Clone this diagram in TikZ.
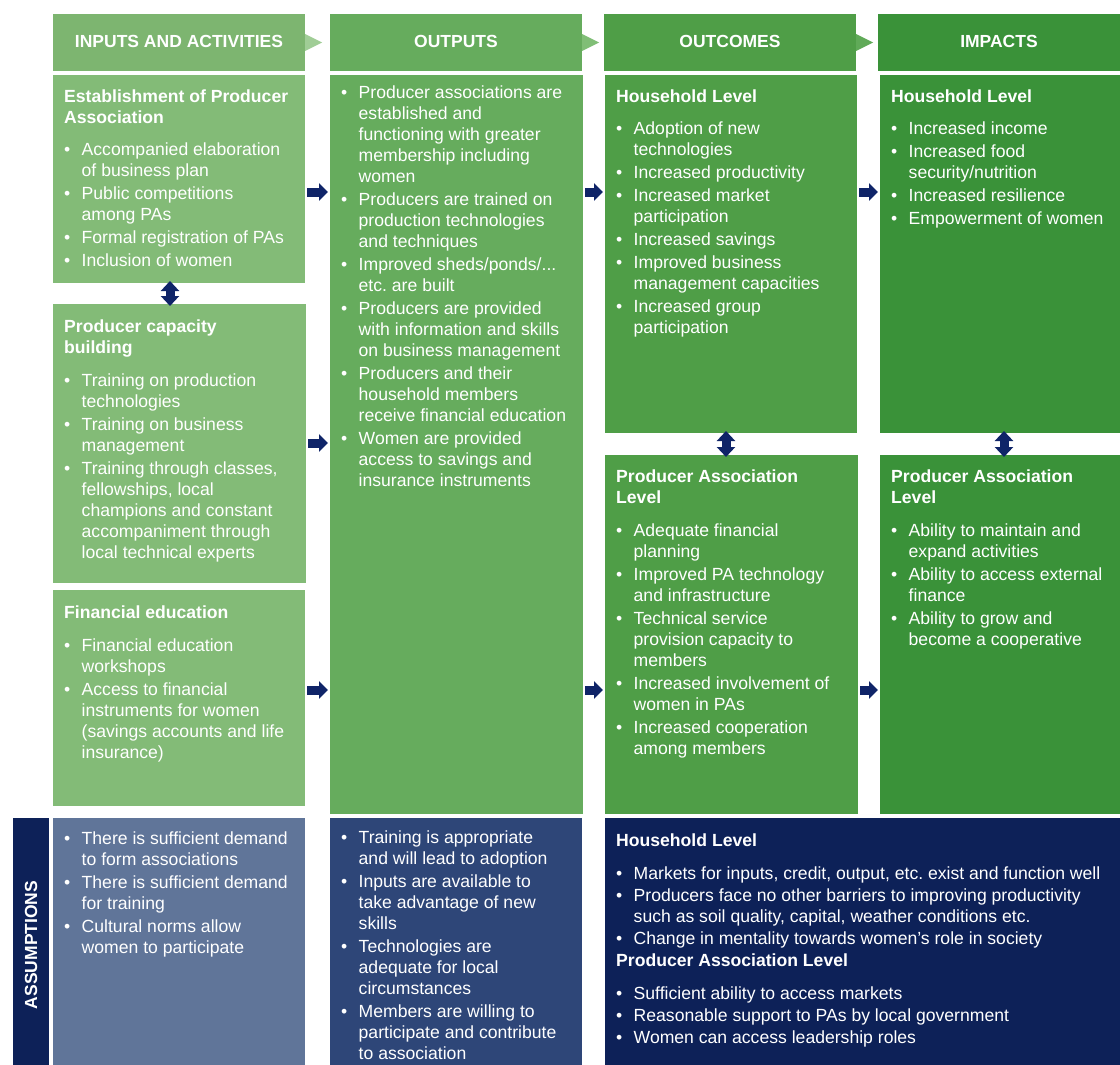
\documentclass[tikz,border=0pt]{standalone}
\usepackage{fontspec}
\setmainfont{Liberation Sans}
\usetikzlibrary{arrows.meta,positioning}
\frenchspacing
\definecolor{headA}{RGB}{125,181,112}
\definecolor{greenA}{RGB}{131,187,119}
\definecolor{greenB}{RGB}{102,172,93}
\definecolor{greenC}{RGB}{79,158,71}
\definecolor{greenD}{RGB}{58,146,57}
\definecolor{chevA}{RGB}{160,205,150}
\definecolor{chevB}{RGB}{128,190,118}
\definecolor{chevC}{RGB}{96,170,88}
\definecolor{navyarrow}{RGB}{15,36,104}
\definecolor{slateA}{RGB}{96,117,153}
\definecolor{slateB}{RGB}{46,70,120}
\definecolor{navyC}{RGB}{13,33,88}
\newcommand{\bu}{\makebox[17.5pt][l]{\textbullet}}
\newcommand{\hd}[1]{\multicolumn{2}{@{}l@{}}{\bfseries #1}}
\tikzset{
  headbox/.style={anchor=north west, inner sep=0pt, outer sep=0pt, minimum height=57pt,
    text=white, font=\bfseries\fontsize{17.5}{20}\selectfont, text depth=3pt},
  panel/.style={anchor=north west, inner sep=0pt, outer sep=0pt},
  txt/.style={anchor=north west, inner sep=0pt, text=white, font=\fontsize{17.6}{21}\selectfont},
  flow/.style={navyarrow, line width=9pt, -{Triangle[width=17pt,length=9pt]},
    shorten <=2pt, shorten >=2pt},
  updown/.style={navyarrow, line width=9pt,
    {Triangle[width=18pt,length=10pt]}-{Triangle[width=18pt,length=10pt]},
    shorten <=-2pt, shorten >=-2pt},
}
\begin{document}
\begin{tikzpicture}[x=1pt, y=-1pt]
\useasboundingbox (0,0) rectangle (1120,1065);
% headers
\node[headbox, fill=headA, minimum width=252pt] (h1) at (53,14) {INPUTS AND ACTIVITIES};
\node[headbox, fill=greenB, minimum width=252pt] (h2) at (330,14) {OUTPUTS};
\node[headbox, fill=greenC, minimum width=252pt] (h3) at (604,14) {OUTCOMES};
\node[headbox, fill=greenD, minimum width=242pt] (h4) at (878,14) {IMPACTS};
\fill[chevA] ([yshift=8.5pt]h1.east) -- ([xshift=17pt]h1.east) -- ([yshift=-8.5pt]h1.east) -- cycle;
\fill[chevB] ([yshift=8.5pt]h2.east) -- ([xshift=17pt]h2.east) -- ([yshift=-8.5pt]h2.east) -- cycle;
\fill[chevC] ([yshift=8.5pt]h3.east) -- ([xshift=17pt]h3.east) -- ([yshift=-8.5pt]h3.east) -- cycle;
% panels
\node[panel, fill=greenA, minimum width=252pt, minimum height=208pt] (ia1) at (53,75) {};
\node[panel, fill=greenA, minimum width=253pt, minimum height=279pt] (ia2) at (53,304) {};
\node[panel, fill=greenA, minimum width=252pt, minimum height=216pt] (ia3) at (53,590) {};
\node[panel, fill=greenB, minimum width=253pt, minimum height=739pt] (out) at (330,75) {};
\node[panel, fill=greenC, minimum width=252pt, minimum height=358pt] (oc1) at (605,75) {};
\node[panel, fill=greenC, minimum width=253pt, minimum height=359pt] (oc2) at (605,455) {};
\node[panel, fill=greenD, minimum width=240pt, minimum height=358pt] (im1) at (880,75) {};
\node[panel, fill=greenD, minimum width=240pt, minimum height=359pt] (im2) at (880,455) {};
\node[panel, fill=navyC, minimum width=36pt, minimum height=247pt] (asbar) at (13,818) {};
\node[panel, fill=slateA, minimum width=252pt, minimum height=247pt] (as1) at (53,818) {};
\node[panel, fill=slateB, minimum width=252pt, minimum height=247pt] (as2) at (330,818) {};
\node[panel, fill=navyC, minimum width=515pt, minimum height=247pt] (as3) at (605,818) {};
\node[rotate=90, text=white, font=\bfseries\fontsize{17.5}{20}\selectfont] (aslab)
  at ([yshift=-3.5pt]asbar.center) {ASSUMPTIONS};
% texts
\node[txt] (ia1t) at ([xshift=11pt,yshift=-12.8pt]ia1.north west) {\begin{tabular}{@{}l@{}l@{}}
\hd{Establishment of Producer}\\
\hd{Association}\\[11pt]
\bu & Accompanied elaboration\\
 & of business plan\\[2pt]
\bu & Public competitions\\
 & among PAs\\[2pt]
\bu & Formal registration of PAs\\[2pt]
\bu & Inclusion of women
\end{tabular}};
\node[txt] (ia2t) at ([xshift=11pt,yshift=-13.8pt]ia2.north west) {\begin{tabular}{@{}l@{}l@{}}
\hd{Producer capacity}\\
\hd{building}\\[11.5pt]
\bu & Training on production\\
 & technologies\\[2pt]
\bu & Training on business\\
 & management\\[2pt]
\bu & Training through classes,\\
 & fellowships, local\\
 & champions and constant\\
 & accompaniment through\\
 & local technical experts
\end{tabular}};
\node[txt] (ia3t) at ([xshift=11pt,yshift=-13.8pt]ia3.north west) {\begin{tabular}{@{}l@{}l@{}}
\hd{Financial education}\\[11.5pt]
\bu & Financial education\\
 & workshops\\[2pt]
\bu & Access to financial\\
 & instruments for women\\
 & (savings accounts and life\\
 & insurance)
\end{tabular}};
\node[txt] (outt) at ([xshift=11pt,yshift=-8.8pt]out.north west) {\begin{tabular}{@{}l@{}l@{}}
\bu & Producer associations are\\
 & established and\\
 & functioning with greater\\
 & membership including\\
 & women\\[2pt]
\bu & Producers are trained on\\
 & production technologies\\
 & and techniques\\[2pt]
\bu & Improved sheds/ponds/...\\
 & etc. are built\\[2pt]
\bu & Producers are provided\\
 & with information and skills\\
 & on business management\\[2pt]
\bu & Producers and their\\
 & household members\\
 & receive financial education\\[2pt]
\bu & Women are provided\\
 & access to savings and\\
 & insurance instruments
\end{tabular}};
\node[txt] (oc1t) at ([xshift=11pt,yshift=-12.8pt]oc1.north west) {\begin{tabular}{@{}l@{}l@{}}
\hd{Household Level}\\[10.5pt]
\bu & Adoption of new\\
 & technologies\\[2pt]
\bu & Increased productivity\\[2pt]
\bu & Increased market\\
 & participation\\[2pt]
\bu & Increased savings\\[2pt]
\bu & Improved business\\
 & management capacities\\[2pt]
\bu & Increased group\\
 & participation
\end{tabular}};
\node[txt] (oc2t) at ([xshift=11pt,yshift=-12.8pt]oc2.north west) {\begin{tabular}{@{}l@{}l@{}}
\hd{Producer Association}\\
\hd{Level}\\[12pt]
\bu & Adequate financial\\
 & planning\\[2pt]
\bu & Improved PA technology\\
 & and infrastructure\\[2pt]
\bu & Technical service\\
 & provision capacity to\\
 & members\\[2pt]
\bu & Increased involvement of\\
 & women in PAs\\[2pt]
\bu & Increased cooperation\\
 & among members
\end{tabular}};
\node[txt] (im1t) at ([xshift=11pt,yshift=-12.8pt]im1.north west) {\begin{tabular}{@{}l@{}l@{}}
\hd{Household Level}\\[10.5pt]
\bu & Increased income\\[2pt]
\bu & Increased food\\
 & security/nutrition\\[2pt]
\bu & Increased resilience\\[2pt]
\bu & Empowerment of women
\end{tabular}};
\node[txt] (im2t) at ([xshift=11pt,yshift=-12.8pt]im2.north west) {\begin{tabular}{@{}l@{}l@{}}
\hd{Producer Association}\\
\hd{Level}\\[12pt]
\bu & Ability to maintain and\\
 & expand activities\\[2pt]
\bu & Ability to access external\\
 & finance\\[2pt]
\bu & Ability to grow and\\
 & become a cooperative
\end{tabular}};
\node[txt] (as1t) at ([xshift=11pt,yshift=-11.8pt]as1.north west) {\begin{tabular}{@{}l@{}l@{}}
\bu & There is sufficient demand\\
 & to form associations\\[2pt]
\bu & There is sufficient demand\\
 & for training\\[2pt]
\bu & Cultural norms allow\\
 & women to participate
\end{tabular}};
\node[txt] (as2t) at ([xshift=11pt,yshift=-10.8pt]as2.north west) {\begin{tabular}{@{}l@{}l@{}}
\bu & Training is appropriate\\
 & and will lead to adoption\\[2pt]
\bu & Inputs are available to\\
 & take advantage of new\\
 & skills\\[2pt]
\bu & Technologies are\\
 & adequate for local\\
 & circumstances\\[2pt]
\bu & Members are willing to\\
 & participate and contribute\\
 & to association
\end{tabular}};
\node[txt] (as3t) at ([xshift=11pt,yshift=-13.8pt]as3.north west) {\begin{tabular}{@{}l@{}l@{}}
\hd{Household Level}\\[12pt]
\bu & Markets for inputs, credit, output, etc. exist and function well\\[1pt]
\bu & Producers face no other barriers to improving productivity\\
 & such as soil quality, capital, weather conditions etc.\\[1pt]
\bu & Change in mentality towards women's role in society\\[1pt]
\hd{Producer Association Level}\\[12pt]
\bu & Sufficient ability to access markets\\[1pt]
\bu & Reasonable support to PAs by local government\\[1pt]
\bu & Women can access leadership roles
\end{tabular}};
% flow arrows
\coordinate (rowA) at (0,192);
\coordinate (rowB) at (0,443);
\coordinate (rowC) at (0,690);
\coordinate (colA) at (170,0);
\coordinate (colC) at (726,0);
\coordinate (colD) at (1004,0);
\draw[flow] (ia1.east |- rowA) -- (out.west |- rowA);
\draw[flow] (ia2.east |- rowB) -- (out.west |- rowB);
\draw[flow] (ia3.east |- rowC) -- (out.west |- rowC);
\draw[flow] (out.east |- rowA) -- (oc1.west |- rowA);
\draw[flow] (out.east |- rowC) -- (oc2.west |- rowC);
\draw[flow] (oc1.east |- rowA) -- (im1.west |- rowA);
\draw[flow] (oc2.east |- rowC) -- (im2.west |- rowC);
\draw[updown] (ia1.south -| colA) -- (ia2.north -| colA);
\draw[updown] (oc1.south -| colC) -- (oc2.north -| colC);
\draw[updown] (im1.south -| colD) -- (im2.north -| colD);
\end{tikzpicture}
\end{document}
